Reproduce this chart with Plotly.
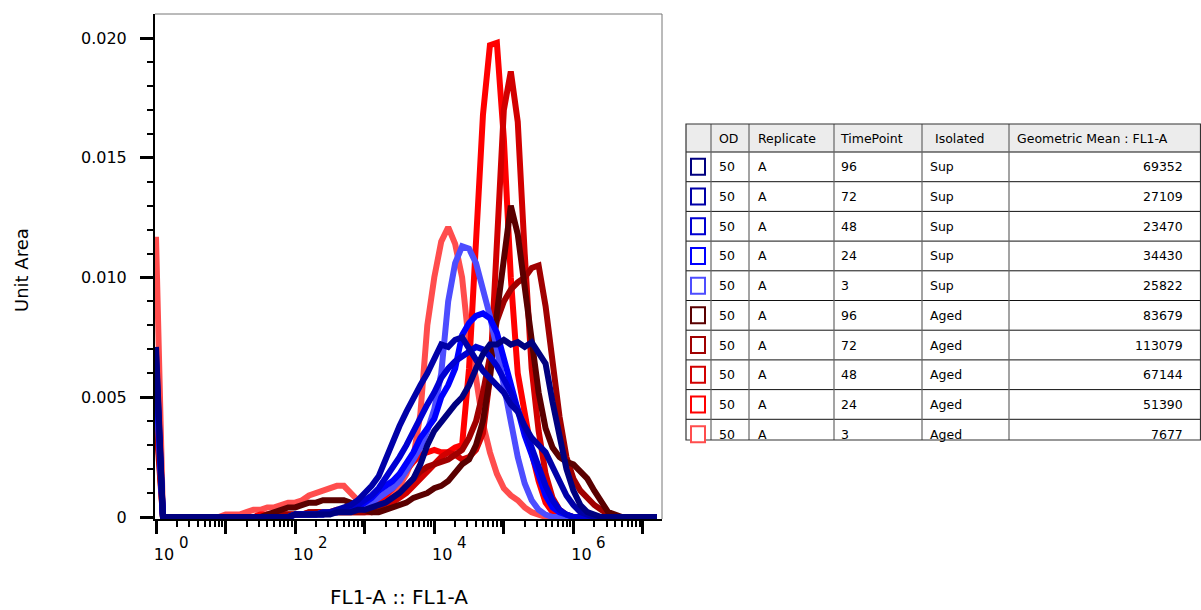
import plotly.graph_objects as go

# ---------------- data ----------------
# histogram bin centres, as log10(FL1-A)
EXPONENTS = [0.0, 0.1, 0.2, 0.3, 0.4, 0.5, 0.6, 0.7, 0.8, 0.9,
             1.0, 1.1, 1.2, 1.3, 1.4, 1.5, 1.6, 1.7, 1.8, 1.9,
             2.0, 2.1, 2.2, 2.3, 2.4, 2.5, 2.6, 2.7, 2.8, 2.9,
             3.0, 3.1, 3.2, 3.3, 3.4, 3.5, 3.6, 3.7, 3.8, 3.9,
             4.0, 4.1, 4.2, 4.3, 4.4, 4.5, 4.6, 4.7, 4.8, 4.9,
             5.0, 5.1, 5.2, 5.3, 5.4, 5.5, 5.6, 5.7, 5.8, 5.9,
             6.0, 6.1, 6.2, 6.3, 6.4, 6.5, 6.6, 6.7, 6.8, 6.9,
             7.0, 7.1, 7.2]

SUP_96 = [0.0071, 0, 0, 0, 0, 0, 0, 0, 0, 0,
          0, 0, 0, 0, 0, 0, 0, 0, 0, 0,
          0.0001, 0.0001, 0.0001, 0.0001, 0.0001, 0.0001, 0.0002, 0.0002, 0.0002, 0.0003,
          0.0003, 0.0004, 0.0005, 0.0006, 0.0008, 0.0010, 0.0013, 0.0016, 0.0022, 0.0030,
          0.0036, 0.0040, 0.0044, 0.0047, 0.0050, 0.0055, 0.0062, 0.0068, 0.0072, 0.0072,
          0.0074, 0.0072, 0.0073, 0.0071, 0.0073, 0.0068, 0.0064, 0.0048, 0.0033, 0.0020,
          0.0011, 0.0005, 0.0002, 0.0001, 0, 0, 0, 0, 0, 0,
          0, 0, 0]

SUP_72 = [0.0068, 0, 0, 0, 0, 0, 0, 0, 0, 0,
          0, 0, 0, 0, 0, 0, 0, 0, 0, 0,
          0.0001, 0.0001, 0.0001, 0.0001, 0.0002, 0.0002, 0.0003, 0.0004, 0.0005, 0.0007,
          0.0010, 0.0013, 0.0017, 0.0024, 0.0032, 0.0038, 0.0044, 0.0050, 0.0055, 0.0060,
          0.0066, 0.0072, 0.0071, 0.0074, 0.0075, 0.0070, 0.0065, 0.0061, 0.0058, 0.0055,
          0.0052, 0.0047, 0.0044, 0.0038, 0.0033, 0.0030, 0.0027, 0.0021, 0.0015, 0.0009,
          0.0005, 0.0002, 0.0001, 0, 0, 0, 0, 0, 0, 0,
          0, 0, 0]

SUP_48 = [0.0065, 0, 0, 0, 0, 0, 0, 0, 0, 0,
          0, 0, 0, 0, 0, 0, 0, 0, 0, 0,
          0.0001, 0.0001, 0.0001, 0.0001, 0.0001, 0.0002, 0.0002, 0.0003, 0.0003, 0.0005,
          0.0007, 0.0009, 0.0012, 0.0016, 0.0020, 0.0025, 0.0030, 0.0036, 0.0042, 0.0047,
          0.0052, 0.0058, 0.0062, 0.0065, 0.0067, 0.0069, 0.0071, 0.0070, 0.0067, 0.0063,
          0.0058, 0.0052, 0.0045, 0.0037, 0.0029, 0.0021, 0.0013, 0.0007, 0.0003, 0.0001,
          0, 0, 0, 0, 0, 0, 0, 0, 0, 0,
          0, 0, 0]

SUP_24 = [0.0060, 0, 0, 0, 0, 0, 0, 0, 0, 0,
          0, 0, 0, 0, 0, 0, 0, 0, 0, 0,
          0.0001, 0.0001, 0.0001, 0.0001, 0.0001, 0.0002, 0.0002, 0.0003, 0.0003, 0.0004,
          0.0006, 0.0008, 0.0011, 0.0013, 0.0015, 0.0018, 0.0022, 0.0027, 0.0033, 0.0037,
          0.0041, 0.0050, 0.0055, 0.0062, 0.0076, 0.0081, 0.0084, 0.0085, 0.0083, 0.0077,
          0.0066, 0.0055, 0.0045, 0.0034, 0.0026, 0.0017, 0.0009, 0.0004, 0.0002, 0.0001,
          0, 0, 0, 0, 0, 0, 0, 0, 0, 0,
          0, 0, 0]

SUP_3 = [0.0055, 0, 0, 0, 0, 0, 0, 0, 0, 0,
         0, 0, 0, 0, 0, 0, 0, 0, 0, 0,
         0.0001, 0.0001, 0.0001, 0.0001, 0.0002, 0.0002, 0.0002, 0.0003, 0.0003, 0.0004,
         0.0005, 0.0006, 0.0008, 0.0010, 0.0012, 0.0015, 0.0019, 0.0024, 0.0029, 0.0036,
         0.0045, 0.0060, 0.0090, 0.0106, 0.0113, 0.0112, 0.0106, 0.0096, 0.0084, 0.0070,
         0.0055, 0.0040, 0.0025, 0.0014, 0.0007, 0.0003, 0.0001, 0, 0, 0,
         0, 0, 0, 0, 0, 0, 0, 0, 0, 0,
         0, 0, 0]

AGED_96 = [0.0060, 0, 0, 0, 0, 0, 0, 0, 0, 0,
           0, 0, 0, 0, 0, 0, 0.0001, 0.0002, 0.0003, 0.0004,
           0.0004, 0.0005, 0.0006, 0.0006, 0.0007, 0.0007, 0.0007, 0.0007, 0.0006, 0.0004,
           0.0003, 0.0002, 0.0002, 0.0003, 0.0004, 0.0005, 0.0006, 0.0008, 0.0009, 0.0010,
           0.0012, 0.0013, 0.0015, 0.0019, 0.0022, 0.0024, 0.0030, 0.0040, 0.0058, 0.0085,
           0.0110, 0.0130, 0.0118, 0.0095, 0.0072, 0.0052, 0.0037, 0.0029, 0.0025, 0.0023,
           0.0022, 0.0019, 0.0016, 0.0011, 0.0006, 0.0002, 0.0001, 0, 0, 0,
           0, 0, 0]

AGED_72 = [0.0045, 0, 0, 0, 0, 0, 0, 0, 0, 0,
           0, 0, 0, 0, 0, 0, 0, 0.0001, 0.0001, 0.0001,
           0.0001, 0.0001, 0.0002, 0.0002, 0.0002, 0.0002, 0.0002, 0.0002, 0.0002, 0.0002,
           0.0002, 0.0003, 0.0004, 0.0006, 0.0008, 0.0010, 0.0013, 0.0016, 0.0019, 0.0021,
           0.0022, 0.0023, 0.0024, 0.0026, 0.0028, 0.0033, 0.0040, 0.0052, 0.0068, 0.0082,
           0.0090, 0.0095, 0.0098, 0.0100, 0.0104, 0.0105, 0.0088, 0.0066, 0.0042, 0.0025,
           0.0016, 0.0011, 0.0008, 0.0005, 0.0003, 0.0001, 0, 0, 0, 0,
           0, 0, 0]

AGED_48 = [0.0040, 0, 0, 0, 0, 0, 0, 0, 0, 0,
           0, 0, 0, 0, 0, 0, 0.0001, 0.0001, 0.0001, 0.0001,
           0.0001, 0.0001, 0.0001, 0.0002, 0.0002, 0.0002, 0.0002, 0.0002, 0.0002, 0.0002,
           0.0002, 0.0002, 0.0003, 0.0004, 0.0006, 0.0008, 0.0010, 0.0013, 0.0016, 0.0019,
           0.0022, 0.0025, 0.0027, 0.0026, 0.0024, 0.0025, 0.0028, 0.0035, 0.0058, 0.0110,
           0.0170, 0.0186, 0.0165, 0.0110, 0.0062, 0.0036, 0.0018, 0.0008, 0.0003, 0.0001,
           0, 0, 0, 0, 0, 0, 0, 0, 0, 0,
           0, 0, 0]

AGED_24 = [0.0050, 0, 0, 0, 0, 0, 0, 0, 0, 0,
           0, 0, 0, 0, 0, 0.0001, 0.0001, 0.0001, 0.0001, 0.0001,
           0.0001, 0.0001, 0.0002, 0.0002, 0.0002, 0.0002, 0.0003, 0.0003, 0.0003, 0.0003,
           0.0003, 0.0004, 0.0006, 0.0009, 0.0012, 0.0016, 0.0020, 0.0023, 0.0026, 0.0027,
           0.0028, 0.0027, 0.0027, 0.0029, 0.0030, 0.0062, 0.0110, 0.0168, 0.0197, 0.0198,
           0.0158, 0.0100, 0.0060, 0.0042, 0.0027, 0.0015, 0.0006, 0.0002, 0.0001, 0,
           0, 0, 0, 0, 0, 0, 0, 0, 0, 0,
           0, 0, 0]

AGED_3 = [0.0117, 0, 0, 0, 0, 0, 0, 0, 0, 0,
          0.0001, 0.0001, 0.0001, 0.0002, 0.0003, 0.0003, 0.0004, 0.0004, 0.0005, 0.0006,
          0.0006, 0.0007, 0.0009, 0.0010, 0.0011, 0.0012, 0.0013, 0.0013, 0.0010, 0.0007,
          0.0005, 0.0005, 0.0006, 0.0008, 0.0010, 0.0013, 0.0018, 0.0025, 0.0043, 0.0080,
          0.0100, 0.0115, 0.0121, 0.0114, 0.0100, 0.0072, 0.0058, 0.0039, 0.0027, 0.0018,
          0.0012, 0.0009, 0.0007, 0.0004, 0.0002, 0.0001, 0, 0, 0, 0,
          0, 0, 0, 0, 0, 0, 0, 0, 0, 0,
          0, 0, 0]

# table (legend) rows, in display order
TABLE_OD = ["50", "50", "50", "50", "50", "50", "50", "50", "50", "50"]
TABLE_REPLICATE = ["A", "A", "A", "A", "A", "A", "A", "A", "A", "A"]
TABLE_TIMEPOINT = ["96", "72", "48", "24", "3", "96", "72", "48", "24", "3"]
TABLE_ISOLATED = ["Sup", "Sup", "Sup", "Sup", "Sup", "Aged", "Aged", "Aged", "Aged", "Aged"]
TABLE_GEOMEAN = [69352, 27109, 23470, 34430, 25822, 83679, 113079, 67144, 51390, 7677]
TABLE_HEADERS = ["OD", "Replicate", "TimePoint", "Isolated", "Geometric Mean : FL1-A"]
SERIES_VALUES = [SUP_96, SUP_72, SUP_48, SUP_24, SUP_3,
                 AGED_96, AGED_72, AGED_48, AGED_24, AGED_3]
SERIES_COLORS = ["#000080", "#0000A8", "#0000D2", "#0000FF", "#4D4DFF",
                 "#5A0000", "#A00000", "#D20000", "#FF0000", "#FF4D4D"]

X_TICK_EXP = [0, 1, 2, 3, 4, 5, 6, 7]
X_TICK_TEXT = ["10", "", "10", "", "10", "", "10", ""]
X_LABEL_EXP = [0, 2, 4, 6]          # decades that carry a "10^n" label
Y_TICKS = [0, 0.005, 0.010, 0.015, 0.020]
Y_TICK_TEXT = ["0", "0.005", "0.010", "0.015", "0.020"]
X_TITLE = "FL1-A :: FL1-A"
Y_TITLE = "Unit Area"

FONT = "DejaVu Sans"

# ---------------- figure ----------------
x_vals = [10 ** e for e in EXPONENTS]
fig = go.Figure()
# first table row drawn last (on top)
for ys, col in reversed(list(zip(SERIES_VALUES, SERIES_COLORS))):
    fig.add_trace(go.Scatter(x=x_vals, y=ys, mode="lines",
                             line=dict(color=col, width=6),
                             hoverinfo="skip", showlegend=False))

# plot area in pixels
L, R, T, B = 155, 662, 14, 519
W, H = 1201, 610

minor_x = [m * 10 ** d for d in range(0, 8) for m in range(2, 10)]
minor_y = [k / 1000 for k in range(0, 21) if k % 5 != 0]

fig.update_layout(
    width=W, height=H,
    margin=dict(l=L, r=W - R, t=T, b=H - B, pad=0, autoexpand=False),
    paper_bgcolor="white", plot_bgcolor="white",
    font=dict(family=FONT, color="black"),
    showlegend=False,
)
fig.update_xaxes(
    type="log", range=[-0.0144, 7.2735], automargin=False,
    showline=True, linecolor="black", linewidth=2,
    showgrid=False, zeroline=False,
    ticks="outside", ticklen=13, tickwidth=3, tickcolor="black",
    tickvals=[10 ** e for e in X_TICK_EXP], ticktext=X_TICK_TEXT,
    tickfont=dict(size=16, family=FONT), ticklabelshift=8, ticklabelstandoff=7,
    minor=dict(tickvals=minor_x, ticks="outside", ticklen=6, tickwidth=2, tickcolor="black", showgrid=False),
)
fig.update_yaxes(
    range=[-0.0000835, 0.021002], automargin=False,
    showline=True, linecolor="black", linewidth=2,
    showgrid=False, zeroline=False,
    ticks="outside", ticklen=13, tickwidth=3, tickcolor="black",
    tickvals=Y_TICKS, ticktext=Y_TICK_TEXT,
    tickfont=dict(size=16, family=FONT), ticklabelstandoff=10,
    minor=dict(tickvals=minor_y, ticks="outside", ticklen=6, tickwidth=2, tickcolor="black", showgrid=False),
)


def px(xp):
    return (xp - L) / (R - L)


def py(yp):
    return (B - yp) / (B - T)


# axis titles
fig.add_annotation(xref="paper", yref="paper", x=px(399), y=py(597), text=X_TITLE,
                   showarrow=False, xanchor="center", yanchor="middle",
                   font=dict(family=FONT, size=20, color="black"))
fig.add_annotation(xref="paper", yref="paper", x=px(21), y=py(270), text=Y_TITLE,
                   showarrow=False, xanchor="center", yanchor="middle", textangle=-90,
                   font=dict(family=FONT, size=18, color="black"))

# exponents of the "10^n" tick labels
for d in X_LABEL_EXP:
    fig.add_annotation(xref="x", yref="paper", x=d, y=py(543),
                       text=str(d), showarrow=False, xanchor="left", yanchor="middle",
                       xshift=21, font=dict(family=FONT, size=15, color="black"))

# frame top & right (grey)
fig.add_shape(type="line", xref="paper", yref="paper", x0=0, x1=1, y0=1, y1=1,
              line=dict(color="#777777", width=1))
fig.add_shape(type="line", xref="paper", yref="paper", x0=1, x1=1, y0=0, y1=1,
              line=dict(color="#777777", width=1))

# ---------------- table ----------------
TBL_L, TBL_R, TBL_T, TBL_B = 686, 1200.5, 124, 440
HDR_B = 152
ROW_H = 29.7
COLS = [686, 711, 749, 834, 922, 1009]

fig.add_shape(type="rect", xref="paper", yref="paper",
              x0=px(TBL_L), x1=px(TBL_R), y0=py(TBL_T), y1=py(HDR_B),
              fillcolor="#ececec", line=dict(width=0), layer="below")
for i in range(len(TABLE_GEOMEAN)):
    yl = HDR_B + ROW_H * i
    fig.add_shape(type="line", xref="paper", yref="paper",
                  x0=px(TBL_L), x1=px(TBL_R), y0=py(yl), y1=py(yl),
                  line=dict(color="#111111", width=1))
for cx in COLS[1:]:
    fig.add_shape(type="line", xref="paper", yref="paper",
                  x0=px(cx), x1=px(cx), y0=py(TBL_T), y1=py(TBL_B),
                  line=dict(color="#666666", width=1.2))
fig.add_shape(type="rect", xref="paper", yref="paper",
              x0=px(TBL_L), x1=px(TBL_R), y0=py(TBL_T), y1=py(TBL_B),
              line=dict(color="#333333", width=1.2))


def txt(x, y, s, anchor="left", size=12.5):
    fig.add_annotation(xref="paper", yref="paper", x=px(x), y=py(y), text=s,
                       showarrow=False, xanchor=anchor, yanchor="middle",
                       font=dict(family=FONT, size=size, color="black"))


hdr_y = (TBL_T + HDR_B) / 2
hdr_x = [717, 756, 838, 933, 1015]
for hx, h in zip(hdr_x, TABLE_HEADERS):
    txt(hx, hdr_y, h)

for i in range(len(TABLE_GEOMEAN)):
    yc = HDR_B + ROW_H * i + ROW_H / 2
    fig.add_shape(type="rect", xref="paper", yref="paper",
                  x0=px(691), x1=px(705), y0=py(yc - 8), y1=py(yc + 8),
                  fillcolor="white", line=dict(color=SERIES_COLORS[i], width=2))
    txt(717, yc, TABLE_OD[i])
    txt(756, yc, TABLE_REPLICATE[i])
    txt(839, yc, TABLE_TIMEPOINT[i])
    txt(928, yc, TABLE_ISOLATED[i])
    txt(1185, yc, str(TABLE_GEOMEAN[i]), anchor="right")

fig.write_html("out.html", config={"displayModeBar": False},
               post_script="document.body.style.margin='0px';document.body.style.overflow='hidden';")
